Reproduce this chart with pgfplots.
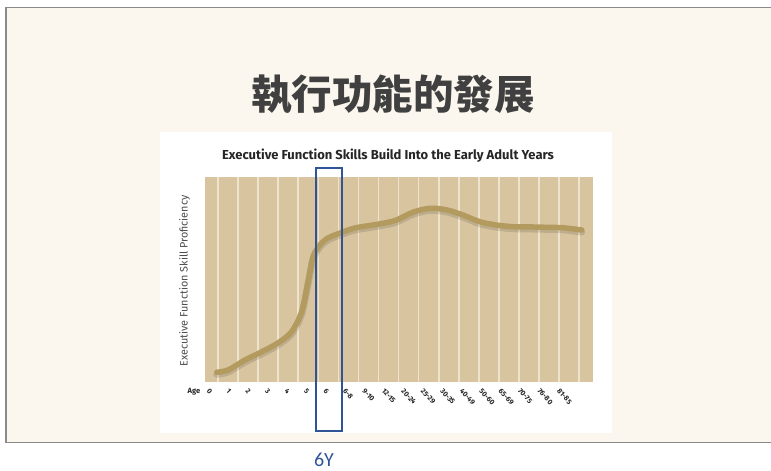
\documentclass[border=0pt]{standalone}
\usepackage{pgfplots}
\pgfplotsset{compat=1.18}
\usepackage{fontspec}
\setmainfont{Fira Sans}
\newfontfamily\cjkfont{Noto Sans CJK TC}
\newfontfamily\carlitofont{Carlito}
\definecolor{slidebg}{HTML}{FCF7EE}
\definecolor{slideborder}{HTML}{8A8A8A}
\definecolor{tanbg}{HTML}{D8C5A0}
\definecolor{gridc}{HTML}{EEE3CC}
\definecolor{curvec}{HTML}{B39A5E}
\definecolor{boxblue}{HTML}{2F5597}
\definecolor{titlegray}{HTML}{404040}
\begin{document}
\begin{tikzpicture}[x=1pt,y=1pt]
\path[use as bounding box] (0,0) rectangle (771,471);
\fill[white] (0,0) rectangle (771,471);
\filldraw[fill=slidebg,draw=slideborder,line width=1.5pt] (6,28.5) rectangle (780,463.5);
\node[font={\cjkfont\bfseries\fontsize{40.5}{42}\selectfont},text=titlegray] at (393,376) {執行功能的發展};
\fill[white] (159.5,38) rectangle (611.5,339);
\node[font={\bfseries\fontsize{13}{15}\selectfont},text=black!85] at (388,315.5) {Executive Function Skills Build Into the Early Adult Years};
\node[rotate=90,font={\fontsize{10.8}{12}\selectfont},text=black!70] at (184.5,190) {Executive Function Skill Proficiency};
\node[font={\bfseries\fontsize{7.5}{8}\selectfont},text=black!85] at (194,79) {Age};
\begin{axis}[
  at={(205pt,89.3pt)}, anchor=south west,
  width=388pt, height=205pt, scale only axis,
  xmin=-0.65, xmax=18.69, ymin=0, ymax=100,
  axis background/.style={fill=tanbg},
  axis line style={draw=none},
  minor xtick={0,...,18},
  xminorgrids, minor grid style={gridc,line width=1.6pt},
  xtick={-0.40,0.57,1.54,2.51,3.48,4.45,5.42,6.39,7.36,8.33,9.30,10.27,11.24,12.21,13.18,14.15,15.12,16.09,17.06},
  xticklabels={0,1,2,3,4,5,6,6-8,9-10,12-15,20-24,25-29,30-35,40-49,50-60,65-69,70-75,76-80,81-85},
  ytick=\empty,
  major tick length=0pt, minor tick length=0pt,
  xticklabel style={yshift=-6pt, rotate=-48, anchor=north west, inner sep=0pt,
      font={\bfseries\fontsize{7.2}{8}\selectfont}, text=black!85},
  clip=false,
]
\addplot[black, opacity=0.12, line width=7pt, smooth, tension=0.5, line cap=round, yshift=-2pt] coordinates {
(-0.06,4.6) (0.5,5.7) (1.35,10.6) (2.18,14.6) (2.99,18.9) (3.67,24.4) (4.17,34.1) (4.49,48.8) (4.74,61) (5.08,66.7) (5.48,70.1) (6.08,72.5) (6.83,75) (7.83,76.6) (8.82,78.6) (9.72,82.7) (10.57,84.6) (11.4,83.8) (12.21,81.3) (13.06,78) (13.89,76.4) (14.71,75.6) (15.55,75.5) (16.39,75.3) (17.2,75.1) (18.13,74)
};
\addplot[curvec, line width=5.5pt, smooth, tension=0.5, line cap=round] coordinates {
(-0.06,4.6) (0.5,5.7) (1.35,10.6) (2.18,14.6) (2.99,18.9) (3.67,24.4) (4.17,34.1) (4.49,48.8) (4.74,61) (5.08,66.7) (5.48,70.1) (6.08,72.5) (6.83,75) (7.83,76.6) (8.82,78.6) (9.72,82.7) (10.57,84.6) (11.4,83.8) (12.21,81.3) (13.06,78) (13.89,76.4) (14.71,75.6) (15.55,75.5) (16.39,75.3) (17.2,75.1) (18.13,74)
};
\end{axis}
\draw[boxblue,line width=2pt] (316,40.3) rectangle (341.7,303);
\node[font={\carlitofont\fontsize{20}{22}\selectfont},text=boxblue] at (324,11) {6Y};
\end{tikzpicture}
\end{document}
